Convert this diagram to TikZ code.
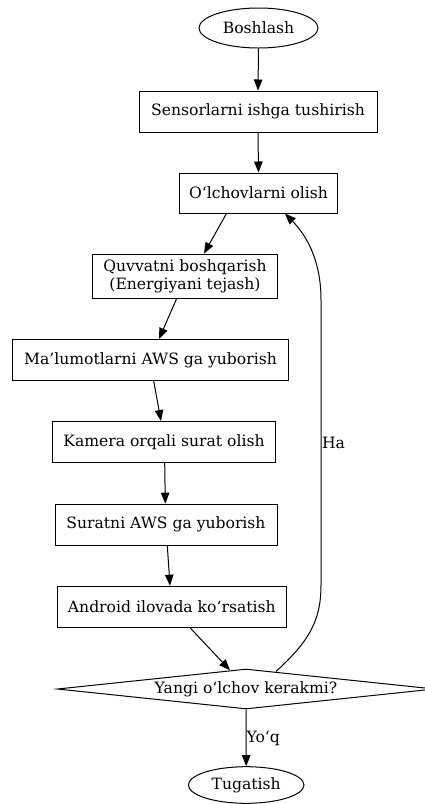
\documentclass[tikz,border=0pt]{standalone}
\usepackage{fontspec}
\setmainfont{DejaVu Serif}
\usetikzlibrary{shapes.geometric,arrows.meta}
\begin{document}
\begin{tikzpicture}[x=1pt,y=-1pt,
  every node/.style={font=\fontsize{15.6}{18}\selectfont, inner sep=0pt, text=black},
  box/.style={draw, rectangle, line width=1pt, minimum height=41pt},
  oval/.style={draw, ellipse, line width=1pt},
  decision/.style={draw, diamond, line width=1pt, aspect=9.4},
  arr/.style={line width=1pt, -{Triangle[length=11pt,width=8.5pt]}},
  lbl/.style={anchor=west}]
\clip (0,0) rectangle (425,804);
\node[oval, minimum width=119pt, minimum height=40pt] (start) at (258.5,28) {Boshlash};
\node[box, minimum width=238pt] (s1) at (258,111.5) {Sensorlarni ishga tushirish};
\node[box, minimum width=158pt, minimum height=40pt] (s2) at (258.5,193) {O‘lchovlarni olish};
\node[box, minimum width=185pt, minimum height=44pt, align=center] (s3) at (185,276) {Quvvatni boshqarish\\(Energiyani tejash)};
\node[box, minimum width=276pt] (s4) at (150.5,360) {Ma’lumotlarni AWS ga yuborish};
\node[box, minimum width=223pt] (s5) at (164,442) {Kamera orqali surat olish};
\node[box, minimum width=222pt] (s6) at (166,524.7) {Suratni AWS ga yuborish};
\node[box, minimum width=229pt] (s7) at (171.8,606.7) {Android ilovada ko‘rsatish};
\node[decision, minimum width=377.4pt, minimum height=40pt] (dq) at (246,689) {Yangi o‘lchov kerakmi?};
\node[oval, minimum width=115.6pt, minimum height=36.6pt] (end) at (246.2,785) {Tugatish};

\draw[arr] (start.south) -- (s1.north);
\draw[arr] (s1.south) -- (s2.north);
\draw[arr] ([xshift=-32pt]s2.south) -- ([xshift=19pt]s3.north);
\draw[arr] ([xshift=-8.3pt]s3.south) -- ([xshift=8.5pt]s4.north);
\draw[arr] ([xshift=3.2pt]s4.south) -- ([xshift=-3pt]s5.north);
\draw[arr] ([xshift=0.7pt]s5.south) -- ([xshift=-0.7pt]s6.north);
\draw[arr] ([xshift=1.3pt]s6.south) -- ([xshift=-1.8pt]s7.north);
\draw[arr] ([xshift=18.2pt]s7.south) -- ([xshift=-16pt,yshift=-1.7pt]dq.north);
\draw[arr] (dq.south) -- (end.north) node[lbl, pos=0.5] {Yo‘q};
\draw[arr] ([xshift=30pt,yshift=-3pt]dq.north) .. controls (308,642) and (321,622) .. (321,585)
  -- (321,300) node[lbl, pos=0.5, xshift=0.5pt] {Ha}
  .. controls (321,258) and (305,234) .. ([xshift=26.5pt]s2.south);
\end{tikzpicture}
\end{document}
